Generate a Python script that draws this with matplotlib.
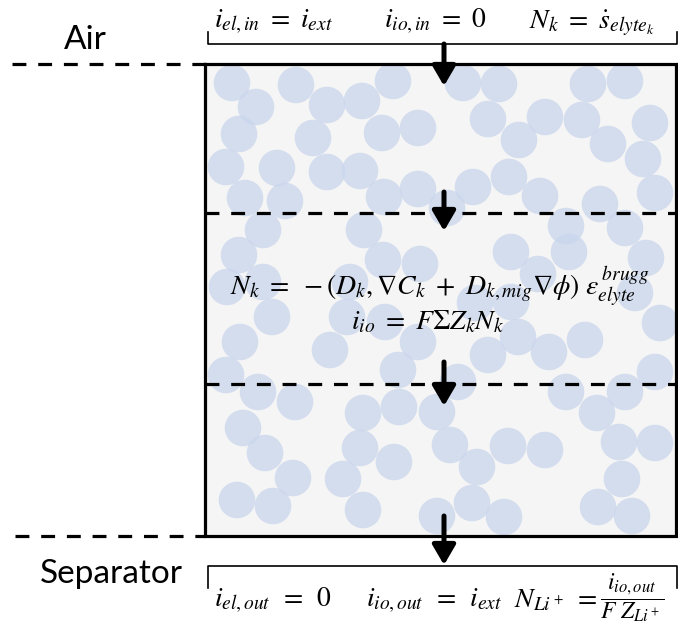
import matplotlib.pyplot as plt
from matplotlib.patches import Circle, Rectangle

plt.rcParams['mathtext.fontset'] = 'stix'
plt.rcParams['lines.scale_dashes'] = False

# particle centres (pixels, y down)
circle_x = [232, 296, 393, 463, 499, 588, 625,
            256, 327, 362,
            239, 313, 382, 418, 488, 545, 582, 650, 519, 608,
            226, 277, 327, 360, 643, 509,
            245, 285, 384, 418, 473, 540, 600, 655, 447,
            263, 364, 566, 625,
            239, 383, 420, 511, 569, 646,
            227, 263, 350, 538, 635,
            272, 347, 385, 475, 511, 660,
            240, 330, 418, 518, 585, 488, 549,
            226, 398, 458, 655,
            258, 295, 363, 399, 437, 566, 625, 597,
            243, 265, 360, 394, 450, 508, 545, 619, 655,
            477, 293, 343, 622,
            237, 273, 363, 437, 472, 504, 598, 632]
circle_y = [83, 85, 81, 83, 84, 84, 81,
            107, 105, 101,
            134, 138, 133, 128, 119, 117, 120, 123, 140, 144,
            167, 168, 172, 171, 159, 177,
            198, 201, 197, 189, 187, 196, 204, 193, 208,
            230, 230, 226, 228,
            255, 260, 264, 252, 252, 258,
            287, 282, 282, 274, 293,
            317, 317, 322, 303, 302, 323,
            342, 350, 342, 337, 340, 355, 352,
            375, 370, 382, 372,
            392, 402, 413, 407, 412, 392, 392, 413,
            428, 453, 448, 462, 445, 446, 450, 442, 443,
            467, 478, 479, 479,
            500, 506, 510, 516, 503, 517, 507, 516]
radius = 18.3

box = (205, 64, 676, 536)
layer_y = [213, 384]
arrow_x = 444
arrows = [(44, 86), (192, 231), (362, 406), (516, 565)]

top_labels = [r'$i_{el,in}\ =\ i_{ext}$', r'$i_{io,in}\ =\ 0$',
              r'$N_k\ =\ \dot{s}_{elyte_k}$']
top_x = [214, 384, 529]
bottom_labels = [r'$i_{el,out}\ \,=\ \,0$', r'$i_{io,out}\ \,=\ \,i_{ext}$', r'$N_{Li^+}\ =$']
bottom_x = [214, 366, 514]
frac_label = r'$\dfrac{i_{io,out}}{F\ Z_{Li^+}}$'
flux_eq = (r'$N_k\ =\ -(D_k,\nabla C_k\ +\ D_{k,mig}\nabla\phi)\ '
           r'\varepsilon_{elyte}^{\,brugg}$')
current_eq = r'$i_{io}\ =\ F\Sigma Z_k N_k$'

fig = plt.figure(figsize=(6.78, 6.29), dpi=100)
ax = fig.add_axes([0, 0, 1, 1])
ax.set_xlim(0, 678)
ax.set_ylim(629, 0)
ax.axis('off')

x0, y0, x1, y1 = box
bg = Rectangle((x0, y0), x1 - x0, y1 - y0, facecolor='#f5f5f5', edgecolor='none', zorder=0)
ax.add_patch(bg)
for cx, cy in zip(circle_x, circle_y):
    c = Circle((cx, cy), radius, facecolor='#c8d5ec', edgecolor='none', alpha=0.75, zorder=1)
    ax.add_patch(c)
    c.set_clip_path(bg)

# box outline
ax.plot([x0, x0, x1, x1, x0], [y0, y1, y1, y0, y0], color='black', lw=2.3, zorder=3,
        solid_joinstyle='miter')
# dashed boundaries
dash = (10, 8.5)
ax.plot([12, x0], [y0, y0], color='black', lw=2.3, dashes=dash, zorder=3)
ax.plot([15, x0], [y1, y1], color='black', lw=2.3, dashes=dash, zorder=3)
for ly in layer_y:
    ax.plot([x0, x1], [ly, ly], color='black', lw=2.3, dashes=dash, zorder=3)

for ys, ye in arrows:
    ax.annotate('', xy=(arrow_x, ye), xytext=(arrow_x, ys),
                arrowprops=dict(arrowstyle='-|>,head_length=0.6,head_width=0.35',
                                lw=3.6, color='black', mutation_scale=20,
                                shrinkA=0, shrinkB=0), zorder=4)

# brackets
ax.plot([208, 208, 677, 677], [32, 44, 44, 32], color='black', lw=1.2, zorder=3)
ax.plot([208, 208, 677, 677], [588, 566, 566, 588], color='black', lw=1.2, zorder=3)

ax.text(85, 40, 'Air', fontsize=24, family='Lato', ha='center', va='center')
ax.text(111, 574, 'Separator', fontsize=24, family='Lato', ha='center', va='center')

for lab, x in zip(top_labels, top_x):
    ax.text(x, 28, lab, fontsize=20, ha='left', va='baseline', zorder=5)
for lab, x in zip(bottom_labels, bottom_x):
    ax.text(x, 607, lab, fontsize=20, ha='left', va='baseline', zorder=5)
ax.text(632, 598, frac_label, fontsize=17, ha='center', va='center', zorder=5)

ax.text(440, 294, flux_eq, fontsize=20, ha='center', va='baseline', zorder=5)
ax.text(428, 329, current_eq, fontsize=20, ha='center', va='baseline', zorder=5)

fig.savefig('out.png', dpi=100)
